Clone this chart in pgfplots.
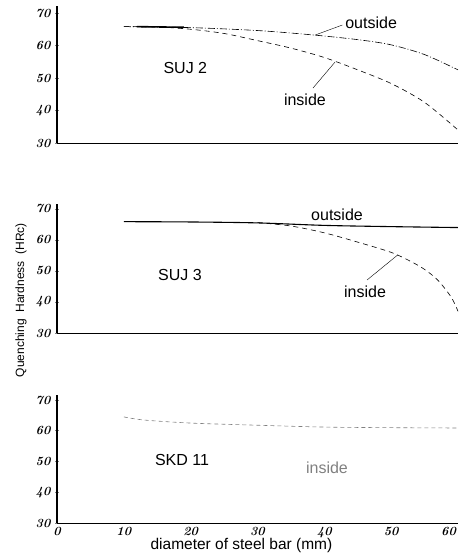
\documentclass[border=0pt]{standalone}
\usepackage{fontspec}
\setsansfont{Liberation Sans}
\usepackage{pgfplots}
\pgfplotsset{compat=1.18}

\pgfplotsset{
  panel/.style={
    scale only axis, width=401pt, xmin=0, xmax=60, ymin=30,
    anchor=south west, clip=false,
    axis x line=bottom, axis y line=left,
    axis line style={-},
    x axis line style={line width=0.6pt},
    y axis line style={line width=1.1pt},
    xtick={0,10,...,60}, ytick={30,40,...,70},
    xticklabels={}, xtick style={draw=none},
    ytick align=center, major tick length=4pt,
    ytick style={line width=0.8pt},
    tick label style={font=\fontsize{12.5}{14}\selectfont\bfseries\itshape},
    yticklabel style={xshift=-1pt},
    /pgf/number format/assume math mode=true,
  },
}
\tikzset{
  outside/.style={black, line width=0.6pt, smooth, dash pattern=on 7pt off 2pt on 1pt off 2pt},
  inside/.style={black, line width=0.6pt, smooth, dash pattern=on 5pt off 4pt},
  lbl/.style={font=\sffamily\fontsize{16}{18}\selectfont},
}

\begin{document}
\begin{tikzpicture}
\useasboundingbox (0,0) rectangle (462pt,560pt);

% SUJ 2
\begin{axis}[panel, at={(57pt,417pt)}, height=136.5pt, ymax=72]
\addplot[outside] coordinates {(10,65.8) (20,65.5) (30,64.6) (38,63.3) (45,61.8) (50,60.2) (55,57.2) (60,52.5)};
\addplot[inside] coordinates {(10,65.8) (15,65.7) (20,65) (25,63.7) (30,61.5) (35,59.2) (40,56.3) (45,52.5) (50,48.3) (55,42.5) (60,34)};
\addplot[black, line width=1.6pt] coordinates {(12,65.8) (19,65.6)};
\node[lbl] at (axis cs:19.2,53) {SUJ 2};
\node[lbl] at (axis cs:47,66.9) {outside};
\draw[thin] (axis cs:42.7,66.3) -- (axis cs:38.6,63.2);
\node[lbl] at (axis cs:37.1,43.2) {inside};
\draw[thin] (axis cs:38.3,46.9) -- (axis cs:41.6,54.9);
\end{axis}

% SUJ 3
\begin{axis}[panel, at={(57pt,227pt)}, height=128.7pt, ymax=71.5]
\addplot[black, line width=1.1pt, smooth] coordinates {(10,65.9) (20,65.8) (30,65.5) (40,64.7) (50,64.3) (60,64)};
\addplot[inside] coordinates {(30,65.6) (35,64.5) (40,62.3) (45,59.3) (50,56) (53,53) (55,50.5) (57,47) (59,41.5) (60,37)};
\node[lbl] at (axis cs:18.4,48.7) {SUJ 3};
\node[lbl] at (axis cs:41.9,68) {outside};
\node[lbl] at (axis cs:46.1,43.2) {inside};
\draw[thin] (axis cs:46.4,47.1) -- (axis cs:51,55.2);
\node[rotate=90, font=\sffamily\fontsize{12}{14}\selectfont] at (rel axis cs:-0.09,0.256) {Quenching\ \ Hardness\ \ (HRc)};
\end{axis}

% SKD 11
\begin{axis}[panel, at={(57pt,37pt)}, height=127.6pt, ymax=71.5,
  xticklabels={0,10,20,30,40,50,{\makebox[0pt][r]{60\,}}},
  xticklabel style={yshift=1pt},
  xlabel={diameter of steel bar (mm)},
  xlabel style={at={(axis description cs:0.46,0)}, anchor=center, yshift=-22pt, font=\sffamily\fontsize{15.5}{17}\selectfont},
]
\addplot[gray, line width=0.6pt, smooth, dash pattern=on 4pt off 3pt] coordinates {(10,64.5) (13,63.5) (20,62.5) (30,61.8) (40,61.2) (50,61) (60,60.9)};
\node[lbl] at (axis cs:18.7,50.5) {SKD 11};
\node[lbl, gray] at (axis cs:40.4,48) {inside};
\end{axis}
\end{tikzpicture}
\end{document}
